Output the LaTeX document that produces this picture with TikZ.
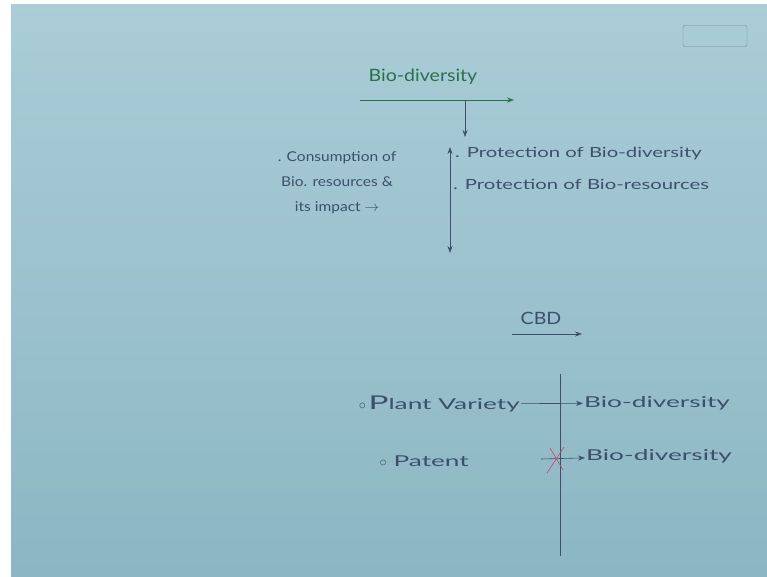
\documentclass[tikz,border=0pt]{standalone}
\usepackage{fontspec}
\setmainfont{Lato}
\newfontfamily\handfont[FakeStretch=1.45]{Lato}
\newfontfamily\handwide[FakeStretch=1.75]{Lato}
\newfontfamily\handnarrow[FakeStretch=1.15]{Lato}
\usepackage{tikz}
\usetikzlibrary{arrows.meta,positioning}
\definecolor{board}{RGB}{140,182,196}
\definecolor{boardtop}{RGB}{170,205,215}
\definecolor{ink}{RGB}{60,80,108}
\definecolor{greenink}{RGB}{42,112,72}
\definecolor{redink}{RGB}{205,70,95}
\tikzset{
  hand/.style={font=\handfont\fontsize{14}{16}\selectfont, text=ink, inner sep=1pt},
  handleft/.style={font=\handnarrow\fontsize{13.5}{25}\selectfont, text=ink, inner sep=1pt, align=center},
  handbig/.style={font=\handwide\fontsize{15}{17}\selectfont, text=ink, inner sep=1pt},
  head/.style={font=\handnarrow\fontsize{17}{19}\selectfont, text=ink, inner sep=1pt},
  line/.style={-{Stealth[length=7pt,width=5pt]}, draw=ink, semithick},
  greenline/.style={-{Stealth[length=7pt,width=5pt]}, draw=greenink, thick}
}

\begin{document}
\begin{tikzpicture}[x=1pt, y=-1pt]
  % board
  \fill[white] (0,0) rectangle (767,576);
  \shade[top color=boardtop, bottom color=board] (11,4) rectangle (767,576);
  \node[draw=ink!70, rounded corners=2pt, minimum width=64pt, minimum height=21pt] (logo) at (715,36) {};

  % top part
  \node[head, text=greenink] (bio) at (423,77) {Bio-diversity};
  \coordinate (bioL) at (360,100);
  \coordinate (bioR) at (514,100);
  \draw[greenline] (bioL) -- (bioR);
  \coordinate (bioT) at (465,100);
  \coordinate (bioD) at (465,137);
  \draw[line] (bioT) -- (bioD);

  \node[handleft] (cons) at (337,183) {. Consumption of\\Bio. resources \&\\its impact $\rightarrow$};
  \coordinate (vtop) at (450,147);
  \coordinate (vbot) at (450,253);
  \draw[line, {Stealth[length=7pt,width=5pt]}-{Stealth[length=7pt,width=5pt]}] (vtop) -- (vbot);
  \node[hand, anchor=west] (prot1) at (454,154) {. Protection of Bio-diversity};
  \node[hand, anchor=west] (prot2) at (452,184) {. Protection of Bio-resources};

  % CBD
  \node[head] (cbd) at (541,318) {CBD};
  \coordinate (cbdL) at (512,334);
  \coordinate (cbdR) at (582,334);
  \draw[line] (cbdL) -- (cbdR);
  \coordinate (cutT) at (560,374);
  \coordinate (cutB) at (560,556);
  \draw[ink, semithick] (cutT) -- (cutB);

  \node[handbig, anchor=east] (plant) at (521,404) {$\circ$\,{\fontsize{19}{21}\selectfont P}lant Variety};
  \node[handbig, anchor=west] (bio1) at (583,403) {Bio-diversity};
  \draw[line] (plant) -- (bio1);

  \node[handbig, anchor=east] (patent) at (470,461) {$\circ$\ Patent};
  \node[handbig, anchor=west] (bio2) at (585,456) {Bio-diversity};
  \coordinate (patS) at (541,459);
  \draw[line] (patS) -- (bio2);
  \coordinate (cross) at (556,459);
  \draw[redink, semithick] (cross) ++(8,-12) -- ++(-17,26);
  \draw[redink, semithick] (cross) ++(-6,-11) -- ++(13,22);
\end{tikzpicture}
\end{document}
